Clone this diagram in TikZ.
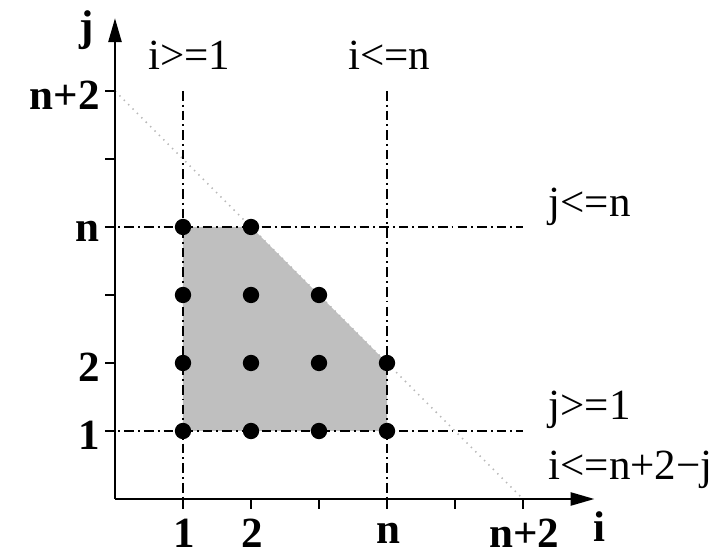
\documentclass[tikz,border=0pt]{standalone}
\usepackage{fontspec}
\setmainfont{Liberation Serif}
\usetikzlibrary{arrows.meta,positioning,calc}

\begin{document}
\begin{tikzpicture}[
    axis/.style={line width=0.9pt, -{Triangle[length=10pt,width=5.5pt]}},
    tickmark/.style={line width=0.9pt},
    bound/.style={line width=0.75pt, dash pattern=on 4pt off 1.7pt on 0.8pt off 1.7pt},
    diag/.style={gray!55, line width=0.6pt, dotted},
    region/.style={fill=gray!50},
    lattpt/.style={circle, fill=black, inner sep=0pt, minimum size=0.24cm},
    ticklbl/.style={font=\fontsize{18}{20}\selectfont\bfseries, inner sep=0pt},
    cons/.style={font=\fontsize{18}{20}\selectfont, inner sep=0pt}
  ]
  \useasboundingbox (-1.691,-0.809) rectangle (9.0,7.338);

  % corners of the feasible region
  \coordinate (c11) at (1,1);
  \coordinate (c14) at (1,4);
  \coordinate (c24) at (2,4);
  \coordinate (c42) at (4,2);
  \coordinate (c41) at (4,1);
  \fill[region] (c11) -- (c14) -- (c24) -- (c42) -- (c41) -- cycle;

  % i+j = n+2
  \coordinate (d0) at (0,6);
  \coordinate (d1) at (6,0);
  \draw[diag] (d0) -- (d1);

  % bounds
  \coordinate (v1t) at (1,6);  \coordinate (v1b) at (1,0);
  \coordinate (vnt) at (4,6);  \coordinate (vnb) at (4,0);
  \coordinate (h1l) at (-0.15,1); \coordinate (h1r) at (6,1);
  \coordinate (hnl) at (-0.15,4); \coordinate (hnr) at (6,4);
  \draw[bound] (v1t) -- (v1b);
  \draw[bound] (vnt) -- (vnb);
  \draw[bound] (h1l) -- (h1r);
  \draw[bound] (hnl) -- (hnr);

  % axes
  \coordinate (O) at (0,0);
  \coordinate (iend) at (7.05,0);
  \coordinate (jend) at (0,7.07);
  \draw[axis] (O) -- (iend);
  \draw[axis] (O) -- (jend);
  \foreach \k in {1,...,6} {
    \draw[tickmark] (\k,0) -- (\k,-0.15);
    \draw[tickmark] (0,\k) -- (-0.15,\k);
  }

  % tick labels
  \foreach \k/\t in {1/1, 2/2, 4/n, 6/n+2} {
    \node[ticklbl] (xl\k) at (\k+0.02,-0.5) {\t};
    \node[ticklbl, anchor=east] (yl\k) at (-0.22,\k-0.07) {\t};
  }
  \node[ticklbl] (ilbl) at (7.13,-0.41) {i};
  \node[ticklbl] (jlbl) at (-0.41,6.90) {j};

  % constraints
  \node[cons] (ige1) at (1.09,6.53) {i>=1};
  \node[cons] (ilen) at (4.03,6.53) {i<=n};
  \node[cons, anchor=west] (jlen) at (6.37,4.29) {j<=n};
  \node[cons, anchor=west] (jge1) at (6.37,1.31) {j>=1};
  \node[cons, anchor=west] (idiag) at (6.37,0.43) {i<=n+2−j};

  % lattice points
  \foreach \p/\q in {1/1, 2/1, 3/1, 4/1, 1/2, 2/2, 3/2, 4/2, 1/3, 2/3, 3/3, 1/4, 2/4}
    \node[lattpt] (p\p\q) at (\p,\q) {};
\end{tikzpicture}
\end{document}
